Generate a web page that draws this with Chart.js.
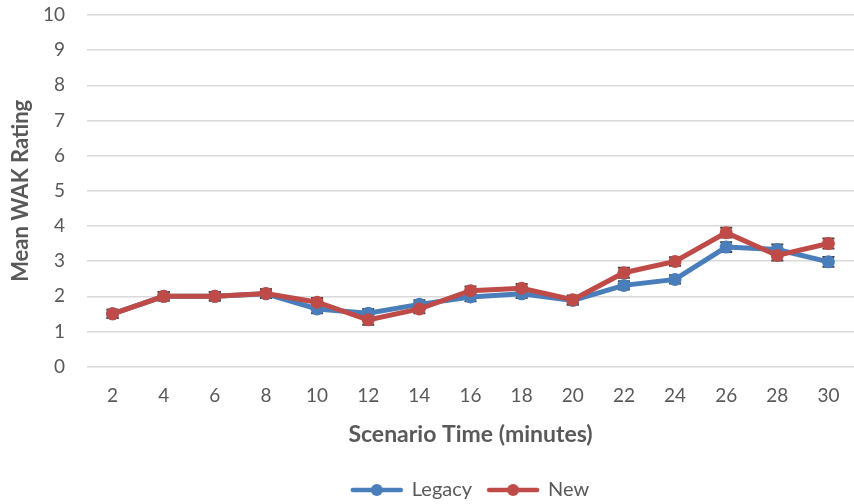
<!DOCTYPE html>
<html>
<head>
<meta charset="utf-8">
<script src="https://cdn.jsdelivr.net/npm/chart.js@4"></script>
<style>
  html, body { margin: 0; padding: 0; background: #fff; }
  #wrap { width: 854px; height: 504px; }
</style>
</head>
<body>
<div id="wrap"><canvas id="myChart" width="854" height="504"></canvas></div>
<script>
// scenario time (minutes)
let times = ["2", "4", "6", "8", "10", "12", "14", "16", "18", "20", "22", "24", "26", "28", "30"];
// mean WAK rating
let legacy = [1.5, 2.0, 2.0, 2.07, 1.64, 1.52, 1.77, 1.98, 2.07, 1.88, 2.31, 2.48, 3.4, 3.33, 2.98];
let newer = [1.5, 2.0, 2.0, 2.08, 1.83, 1.33, 1.64, 2.16, 2.23, 1.9, 2.67, 2.99, 3.81, 3.16, 3.5];
// error bar half-widths
let legacyErr = [0.12, 0.12, 0.12, 0.12, 0.12, 0.12, 0.12, 0.12, 0.12, 0.12, 0.12, 0.12, 0.14, 0.14, 0.14];
let newerErr = [0.12, 0.12, 0.12, 0.12, 0.12, 0.14, 0.12, 0.12, 0.12, 0.12, 0.14, 0.12, 0.14, 0.14, 0.14];

let blue = "#4a7ebb";
let red = "#be4b48";
let font = "Lato, 'Open Sans', sans-serif";

// legend swatch: line with a dot
function legendSwatch(color) {
  let c = document.createElement("canvas");
  c.width = 54;
  c.height = 14;
  let g = c.getContext("2d");
  g.strokeStyle = color;
  g.lineWidth = 4.5;
  g.lineCap = "round";
  g.beginPath();
  g.moveTo(3, 7);
  g.lineTo(51, 7);
  g.stroke();
  g.fillStyle = color;
  g.beginPath();
  g.arc(27, 7, 6, 0, Math.PI * 2);
  g.fill();
  return c;
}

let errorBars = {
  id: "errorBars",
  beforeDatasetsDraw(chart) {
    let ctx = chart.ctx;
    let y = chart.scales.y;
    chart.data.datasets.forEach((ds, i) => {
      let meta = chart.getDatasetMeta(i);
      meta.data.forEach((pt, j) => {
        let v = ds.data[j];
        let e = ds.errors[j];
        let top = y.getPixelForValue(v + e);
        let bot = y.getPixelForValue(v - e);
        ctx.save();
        ctx.strokeStyle = "#404040";
        ctx.lineWidth = 2;
        ctx.beginPath();
        ctx.moveTo(pt.x, top);
        ctx.lineTo(pt.x, bot);
        ctx.moveTo(pt.x - 6, top);
        ctx.lineTo(pt.x + 6, top);
        ctx.moveTo(pt.x - 6, bot);
        ctx.lineTo(pt.x + 6, bot);
        ctx.stroke();
        ctx.restore();
      });
    });
  }
};

var ctx = document.getElementById("myChart").getContext("2d");
var chart = new Chart(ctx, {
  type: "line",
  data: {
    labels: times,
    datasets: [
      {
        label: "Legacy",
        data: legacy,
        errors: legacyErr,
        order: 1,
        borderColor: blue,
        backgroundColor: blue,
        borderWidth: 5,
        pointRadius: 6.5,
        pointHoverRadius: 6.5,
        pointBorderWidth: 0,
        pointStyle: "circle",
        tension: 0
      },
      {
        label: "New",
        data: newer,
        errors: newerErr,
        order: 0,
        borderColor: red,
        backgroundColor: red,
        borderWidth: 5,
        pointRadius: 6.5,
        pointHoverRadius: 6.5,
        pointBorderWidth: 0,
        pointStyle: "circle",
        tension: 0
      }
    ]
  },
  options: {
    responsive: false,
    animation: false,
    layout: { autoPadding: false, padding: { left: 8, right: 0, top: 0, bottom: -6 } },
    plugins: {
      tooltip: { enabled: false },
      legend: {
        position: "bottom",
        fullSize: false,
        labels: {
          usePointStyle: true,
          pointStyleWidth: 50,
          color: "#595959",
          font: { family: font, size: 20 },
          padding: 16,
          generateLabels: function(chart) {
            return chart.data.datasets.map((ds, i) => ({
              text: ds.label,
              pointStyle: legendSwatch(ds.borderColor),
              fillStyle: ds.borderColor,
              strokeStyle: ds.borderColor,
              lineWidth: 0,
              fontColor: "#595959",
              datasetIndex: i
            }));
          },
          sort: (a, b) => a.datasetIndex - b.datasetIndex
        }
      }
    },
    scales: {
      x: {
        offset: true,
        grid: { display: false, drawTicks: false },
        border: { display: false },
        ticks: { color: "#595959", font: { family: font, size: 19 }, padding: 18 },
        title: {
          display: true,
          text: "Scenario Time (minutes)",
          color: "#595959",
          font: { family: font, size: 23, weight: "bold" },
          padding: { top: -5, bottom: 16 }
        },
        afterFit: function(s) {
          s.paddingLeft = 0;
          s.paddingRight = 0;
        }
      },
      y: {
        min: 0,
        max: 10,
        grid: { color: "#d9d9d9", lineWidth: 1.5, drawTicks: false },
        border: { display: false },
        ticks: { stepSize: 1, color: "#595959", font: { family: font, size: 19 }, padding: 22 },
        title: {
          display: true,
          text: "Mean WAK Rating",
          color: "#595959",
          font: { family: font, size: 22, weight: "bold" },
          padding: { top: 0, bottom: 6 }
        },
        afterFit: function(s) {
          s.width = 79;
          s.paddingTop = 15;
          s.paddingBottom = 0;
        }
      }
    }
  },
  plugins: [errorBars]
});
</script>
</body>
</html>
